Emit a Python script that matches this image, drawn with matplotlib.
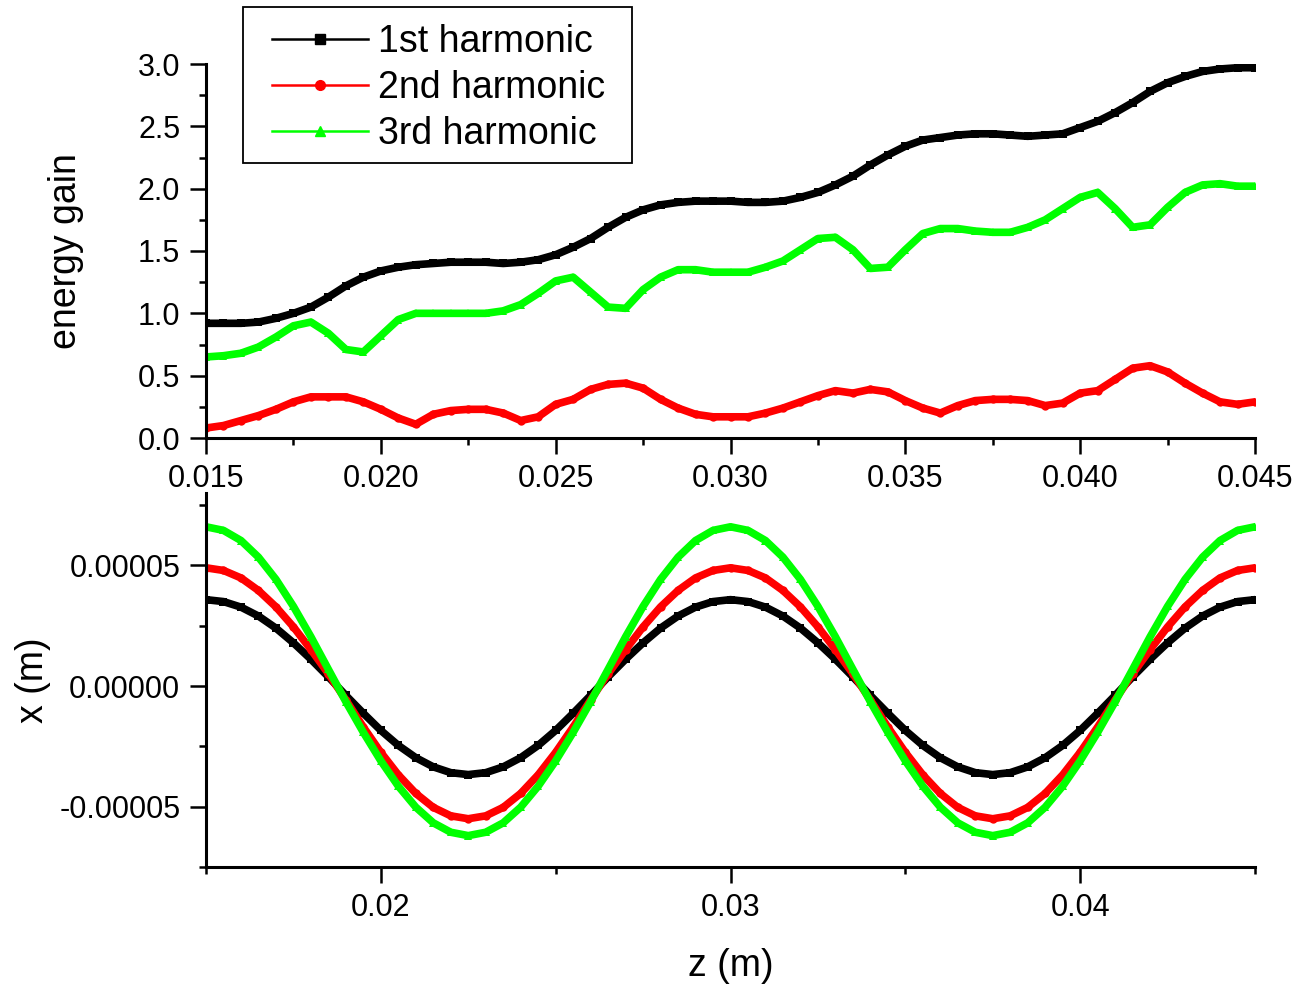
import numpy as np
import matplotlib
matplotlib.use("Agg")
import matplotlib.pyplot as plt
from matplotlib.lines import Line2D
from matplotlib.patches import Rectangle
from matplotlib.ticker import FixedLocator, MultipleLocator, FuncFormatter

plt.rcParams["font.family"] = ["Liberation Sans", "DejaVu Sans"]

# z positions of the readings (m), every 0.0005 m from 0.015 to 0.045
z = np.linspace(0.015, 0.045, 61)

labels = ["1st harmonic", "2nd harmonic", "3rd harmonic"]
colors = ["#000000", "#ff0000", "#00ff00"]
markers = ["s", "o", "^"]

# energy gain
gain_1st = [0.92, 0.92, 0.92, 0.93, 0.96, 1.00, 1.05, 1.13, 1.22, 1.29,
            1.34, 1.37, 1.39, 1.40, 1.41, 1.41, 1.41, 1.40, 1.41, 1.43,
            1.47, 1.53, 1.60, 1.69, 1.77, 1.83, 1.87, 1.89, 1.90, 1.90,
            1.90, 1.89, 1.89, 1.90, 1.93, 1.97, 2.03, 2.10, 2.19, 2.27,
            2.34, 2.39, 2.41, 2.43, 2.44, 2.44, 2.43, 2.42, 2.43, 2.44,
            2.49, 2.54, 2.61, 2.69, 2.78, 2.85, 2.90, 2.94, 2.96, 2.97,
            2.97]
gain_2nd = [0.08, 0.10, 0.14, 0.18, 0.23, 0.29, 0.33, 0.33, 0.33, 0.29,
            0.23, 0.16, 0.11, 0.19, 0.22, 0.23, 0.23, 0.20, 0.14, 0.17,
            0.27, 0.31, 0.39, 0.43, 0.44, 0.40, 0.31, 0.24, 0.19, 0.17,
            0.17, 0.17, 0.20, 0.24, 0.29, 0.34, 0.38, 0.36, 0.39, 0.37,
            0.30, 0.24, 0.20, 0.26, 0.30, 0.31, 0.31, 0.30, 0.26, 0.28,
            0.36, 0.38, 0.47, 0.56, 0.58, 0.53, 0.44, 0.36, 0.29, 0.27,
            0.29]
gain_3rd = [0.65, 0.66, 0.68, 0.73, 0.81, 0.90, 0.93, 0.84, 0.71, 0.69,
            0.82, 0.95, 1.00, 1.00, 1.00, 1.00, 1.00, 1.02, 1.07, 1.16,
            1.26, 1.29, 1.17, 1.05, 1.04, 1.19, 1.29, 1.35, 1.35, 1.33,
            1.33, 1.33, 1.37, 1.42, 1.51, 1.60, 1.61, 1.51, 1.36, 1.37,
            1.51, 1.64, 1.68, 1.68, 1.66, 1.65, 1.65, 1.69, 1.75, 1.84,
            1.93, 1.97, 1.84, 1.69, 1.71, 1.85, 1.97, 2.03, 2.04, 2.02,
            2.02]

# transverse position x, in units of 1e-5 m
x_1st = [3.58, 3.50, 3.27, 2.90, 2.40, 1.79, 1.11, 0.38, -0.39, -1.13,
         -1.84, -2.46, -2.97, -3.35, -3.59, -3.67, -3.59, -3.35, -2.97, -2.46,
         -1.84, -1.13, -0.39, 0.38, 1.11, 1.79, 2.40, 2.90, 3.27, 3.50,
         3.58, 3.50, 3.27, 2.90, 2.40, 1.79, 1.11, 0.38, -0.39, -1.13,
         -1.84, -2.46, -2.97, -3.35, -3.59, -3.67, -3.59, -3.35, -2.97, -2.46,
         -1.84, -1.13, -0.39, 0.38, 1.11, 1.79, 2.40, 2.90, 3.27, 3.50,
         3.58]
x_2nd = [4.90, 4.79, 4.48, 3.96, 3.28, 2.45, 1.51, 0.51, -0.58, -1.70,
         -2.75, -3.68, -4.45, -5.03, -5.38, -5.50, -5.38, -5.03, -4.45, -3.68,
         -2.75, -1.70, -0.58, 0.51, 1.51, 2.45, 3.28, 3.96, 4.48, 4.79,
         4.90, 4.79, 4.48, 3.96, 3.28, 2.45, 1.51, 0.51, -0.58, -1.70,
         -2.75, -3.68, -4.45, -5.03, -5.38, -5.50, -5.38, -5.03, -4.45, -3.68,
         -2.75, -1.70, -0.58, 0.51, 1.51, 2.45, 3.28, 3.96, 4.48, 4.79,
         4.90]
x_3rd = [6.60, 6.45, 6.03, 5.34, 4.42, 3.30, 2.04, 0.69, -0.65, -1.92,
         -3.10, -4.15, -5.02, -5.67, -6.06, -6.20, -6.06, -5.67, -5.02, -4.15,
         -3.10, -1.92, -0.65, 0.69, 2.04, 3.30, 4.42, 5.34, 6.03, 6.45,
         6.60, 6.45, 6.03, 5.34, 4.42, 3.30, 2.04, 0.69, -0.65, -1.92,
         -3.10, -4.15, -5.02, -5.67, -6.06, -6.20, -6.06, -5.67, -5.02, -4.15,
         -3.10, -1.92, -0.65, 0.69, 2.04, 3.30, 4.42, 5.34, 6.03, 6.45,
         6.60]

W, H = 1299, 986
fig = plt.figure(figsize=(W / 100, H / 100), dpi=100)
ax1 = fig.add_axes([206 / W, 1 - 438 / H, 1049 / W, 374 / H])
ax2 = fig.add_axes([206 / W, 1 - 867 / H, 1049 / W, 374 / H])


def style_axes(ax):
    for side in ["top", "right"]:
        ax.spines[side].set_visible(False)
    for side in ["left", "bottom"]:
        ax.spines[side].set_linewidth(2.2)
    ax.tick_params(which="major", direction="out", length=11.5, width=1.8)
    ax.tick_params(which="minor", direction="out", length=5, width=1.8)
    ax.tick_params(axis="x", labelsize=22, pad=7.5)
    ax.tick_params(axis="y", labelsize=22, pad=7)


# upper panel: energy gain
for y, c, m in zip([gain_1st, gain_2nd, gain_3rd], colors, markers):
    ax1.plot(z, y, color=c, lw=5.5, marker=m, ms=6, mec=c, mew=0)
ax1.set_xlim(0.015, 0.045)
ax1.set_ylim(0, 3.0)
ax1.xaxis.set_major_locator(MultipleLocator(0.005))
ax1.xaxis.set_minor_locator(MultipleLocator(0.0025))
ax1.yaxis.set_major_locator(MultipleLocator(0.5))
ax1.yaxis.set_minor_locator(MultipleLocator(0.25))
ax1.xaxis.set_major_formatter(FuncFormatter(lambda v, p: f"{v:.3f}"))
ax1.yaxis.set_major_formatter(FuncFormatter(lambda v, p: f"{v:.1f}"))
style_axes(ax1)
ax1.set_ylabel("energy gain", fontsize=27)
ax1.yaxis.set_label_coords(-0.1163, 0.5)

# lower panel: trajectory
for y, c, m in zip([x_1st, x_2nd, x_3rd], colors, markers):
    ax2.plot(z, np.array(y) * 1e-5, color=c, lw=5.5, marker=m, ms=6, mec=c, mew=0)
ax2.set_xlim(0.015, 0.045)
ax2.set_ylim(-7.5e-5, 8e-5)
ax2.xaxis.set_major_locator(FixedLocator([0.02, 0.03, 0.04]))
ax2.xaxis.set_minor_locator(FixedLocator([0.015, 0.025, 0.035, 0.045]))
ax2.yaxis.set_major_locator(FixedLocator([-5e-5, 0.0, 5e-5]))
ax2.yaxis.set_minor_locator(FixedLocator([-7.5e-5, -2.5e-5, 2.5e-5, 7.5e-5]))
ax2.xaxis.set_major_formatter(FuncFormatter(lambda v, p: f"{v:.2f}"))
ax2.yaxis.set_major_formatter(FuncFormatter(lambda v, p: f"{v:.5f}".replace("-0.00000", "0.00000")))
style_axes(ax2)
ax2.set_ylabel("x (m)", fontsize=27)
ax2.yaxis.set_label_coords(-0.1478, 0.5)
ax2.set_xlabel("z (m)", fontsize=27)
ax2.xaxis.set_label_coords(0.5, -0.2166)

# legend with a hand-placed frame
handles = [Line2D([], [], color=c, lw=1.8, marker=m, ms=7, mec=c)
           for c, m in zip(colors, markers)]
fig.legend(handles, labels, loc="upper left", bbox_to_anchor=(272 / W, 1 - 24.5 / H),
           bbox_transform=fig.transFigure, frameon=False, fontsize=27,
           borderpad=0, borderaxespad=0, handlelength=2.56, handletextpad=0.27,
           labelspacing=0.26)
fig.add_artist(Rectangle((243 / W, 1 - 163 / H), (632 - 243) / W, (163 - 7) / H,
                         transform=fig.transFigure, fill=False, lw=1.3, ec="black"))

fig.savefig("out.png", dpi=100)
